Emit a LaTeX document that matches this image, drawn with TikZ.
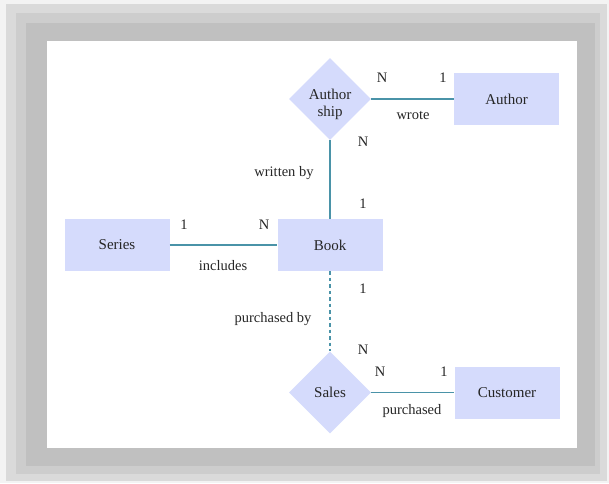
\documentclass[tikz,border=0pt]{standalone}
\usepackage{fontspec}
\setmainfont{Liberation Serif}
\usetikzlibrary{shapes.geometric}
\definecolor{fillc}{HTML}{D5DBFC}
\definecolor{linec}{HTML}{4A93A8}
\definecolor{txt}{HTML}{262626}
\tikzset{
  entity/.style={draw=none,fill=fillc,minimum width=105pt,minimum height=52pt,inner sep=0pt,font=\fontsize{15}{17}\selectfont,text=txt},
  relation/.style={diamond,draw=none,fill=fillc,minimum width=82pt,minimum height=82pt,inner sep=0pt,align=center,font=\fontsize{15}{17}\selectfont,text=txt},
  lbl/.style={inner sep=0pt,font=\fontsize{14.5}{17}\selectfont,text=txt,align=center},
  conn/.style={draw=linec,line width=1.8pt},
  dconn/.style={conn,dash pattern=on 3.5pt off 3pt}
}
\begin{document}
\begin{tikzpicture}[x=1pt,y=-1pt]
\useasboundingbox (0,0) rectangle (609,483);
\fill[fill={rgb,255:red,243;green,243;blue,243}] (0,0) rectangle (609,483);
\fill[fill={rgb,255:red,218;green,218;blue,218}] (6,4) rectangle (607,481);
\fill[fill={rgb,255:red,205;green,205;blue,205}] (16,13) rectangle (600,474);
\fill[fill={rgb,255:red,192;green,192;blue,192}] (26,23) rectangle (595,466);
\fill[white] (47,41) rectangle (577,448);

\node[relation] (authorship) at (330,99) {};
\node[lbl,font=\fontsize{15}{17}\selectfont] (authtext) at (330,104) {Author\\ship};
\node[entity] (author) at (506.5,99) {Author};
\node[entity] (book) at (330,245) {Book};
\node[entity] (series) at (117,245) {Series};
\node[relation] (sales) at (330,392.5) {Sales};
\node[entity] (customer) at (507,392.5) {Customer};

\draw[conn] (authorship.east) -- (author.west);
\draw[conn] (authorship.south) -- (book.north);
\draw[conn] (series.east) -- (book.west);
\draw[dconn] (book.south) -- (sales.north);
\draw[conn] (sales.east) -- (customer.west);

\node[lbl] (n1) at (382,78) {N};
\node[lbl] (o1) at (443,78) {1};
\node[lbl] (wrote) at (413,115) {wrote};
\node[lbl] (n2) at (363,142) {N};
\node[lbl] (wby) at (284,173) {written by};
\node[lbl] (o2) at (363,204) {1};
\node[lbl] (o3) at (184,225) {1};
\node[lbl] (n3) at (264,225) {N};
\node[lbl] (incl) at (223,266) {includes};
\node[lbl] (o4) at (363,289) {1};
\node[lbl] (pby) at (273,319) {purchased by};
\node[lbl] (n4) at (363,350) {N};
\node[lbl] (n5) at (380,372) {N};
\node[lbl] (o5) at (444,372) {1};
\node[lbl] (purch) at (412,411) {purchased};
\end{tikzpicture}
\end{document}
